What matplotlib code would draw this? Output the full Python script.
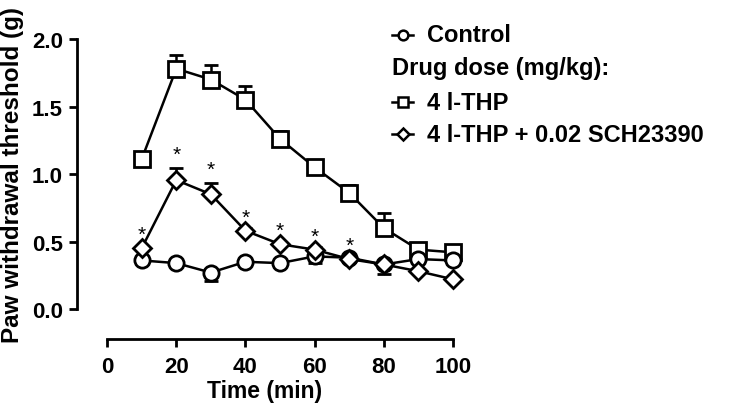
import matplotlib.pyplot as plt
from matplotlib.lines import Line2D

plt.rcParams['font.family'] = ['Liberation Sans', 'DejaVu Sans']
plt.rcParams['font.weight'] = 'bold'

# Data
time = [10, 20, 30, 40, 50, 60, 70, 80, 90, 100]
control = [0.36, 0.34, 0.27, 0.35, 0.34, 0.39, 0.38, 0.33, 0.37, 0.36]
control_err = [0.02, 0.02, 0.06, 0.02, 0.02, 0.05, 0.03, 0.07, 0.02, 0.03]
thp = [1.11, 1.78, 1.70, 1.55, 1.26, 1.05, 0.86, 0.60, 0.44, 0.42]
thp_err = [0.03, 0.10, 0.11, 0.10, 0.06, 0.03, 0.06, 0.11, 0.04, 0.04]
sch = [0.45, 0.955, 0.85, 0.58, 0.48, 0.44, 0.37, 0.33, 0.28, 0.22]
sch_err = [0.02, 0.09, 0.08, 0.02, 0.02, 0.02, 0.02, 0.02, 0.02, 0.02]
star_times = [10, 20, 30, 40, 50, 60, 70]

fig = plt.figure(figsize=(7.35, 4.14), dpi=100)
ax = fig.add_axes([77 / 735, 1 - 340 / 414, (453 - 77) / 735, 300 / 414])

style = dict(color='black', markerfacecolor='white', markeredgecolor='black',
             markersize=11, markeredgewidth=2, linewidth=1.8,
             elinewidth=1.8, capsize=5, capthick=2.5, clip_on=False)

zeros = [0] * len(time)
ax.errorbar(time, control, yerr=[control_err, zeros], marker='o', zorder=3, **style)
ax.errorbar(time, thp, yerr=[zeros, thp_err], marker='s', zorder=2, **style)
ax.errorbar(time, sch, yerr=[zeros, sch_err], marker='D', zorder=4,
            **{**style, 'markersize': 9.5})

for t in star_times:
    i = time.index(t)
    top = sch[i] + (sch_err[i] if sch_err[i] > 0.05 else 0)
    ax.annotate('*', (t, top), xytext=(0, 3), textcoords='offset points',
                ha='center', va='bottom', fontsize=15, fontweight='normal')

ax.set_xlim(-8.7, 100)
ax.set_ylim(-0.222, 2.0)
ax.set_xticks([0, 20, 40, 60, 80, 100])
ax.set_yticks([0.0, 0.5, 1.0, 1.5, 2.0])
ax.set_yticklabels(['0.0', '0.5', '1.0', '1.5', '2.0'])
ax.spines['top'].set_visible(False)
ax.spines['right'].set_visible(False)
ax.spines['left'].set_bounds(0, 2.0)
ax.spines['bottom'].set_bounds(0, 100)
for s in ('left', 'bottom'):
    ax.spines[s].set_linewidth(2)
ax.tick_params(width=2, length=6, labelsize=16, pad=4)
ax.tick_params(axis='x', pad=6)
for lab in ax.get_xticklabels() + ax.get_yticklabels():
    lab.set_fontweight('bold')

ax.set_xlabel('Time (min)', fontsize=16.5, fontweight='bold', labelpad=2)
ax.set_ylabel('Paw withdrawal threshold (g)', fontsize=17.5, fontweight='bold', labelpad=6)
# centre the y label on the drawn spine (0 to 2.0)
ax.yaxis.label.set_y((1.0 + 0.222) / 2.222)

# legend drawn by hand to match the layout
entries = [('o', 'Control', 36), ('s', '4 l-THP', 103), ('D', '4 l-THP + 0.02 SCH23390', 135)]
for m, label, ypx in entries:
    y = 1 - ypx / 414
    fig.add_artist(Line2D([392 / 735, 413 / 735], [y, y], color='black', linewidth=1.8,
                          transform=fig.transFigure))
    fig.add_artist(Line2D([402.5 / 735], [y], marker=m, markersize=7 if m != 'D' else 6.5,
                          markerfacecolor='white', markeredgecolor='black',
                          markeredgewidth=1.8, transform=fig.transFigure))
    fig.text(427 / 735, y, label, fontsize=17, fontweight='bold', va='center', ha='left')
fig.text(392 / 735, 1 - 68 / 414, 'Drug dose (mg/kg):', fontsize=17, fontweight='bold',
         va='center', ha='left')

fig.savefig('out.png', dpi=100)
